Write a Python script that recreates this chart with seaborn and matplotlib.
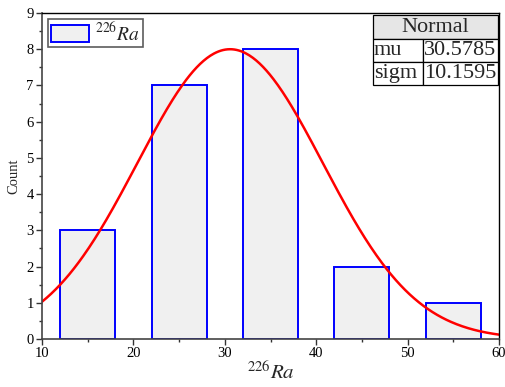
import numpy as np
import pandas as pd
import seaborn as sns
import matplotlib
matplotlib.use("Agg")
import matplotlib.pyplot as plt
from matplotlib.patches import Patch, Rectangle
from matplotlib.ticker import MultipleLocator

# Histogram of 226Ra values with a fitted normal curve
bin_edges = [10, 20, 30, 40, 50, 60]
bin_centers = [15, 25, 35, 45, 55]
counts = [3, 7, 8, 2, 1]
fit_mu = 30.5785
fit_sigma = 10.1595
fit_peak = 8.0
param_names = ["mu", "sigm"]

sns.set_theme(style="white")
plt.rcParams["font.family"] = ["Liberation Serif", "DejaVu Serif"]
plt.rcParams["mathtext.fontset"] = "stix"

W, H = 505, 387
fig = plt.figure(figsize=(W / 100, H / 100), dpi=100)
ax_l, ax_r, ax_t, ax_b = 42, 499, 13, 339
ax = fig.add_axes([ax_l / W, 1 - ax_b / H, (ax_r - ax_l) / W, (ax_b - ax_t) / H])

df = pd.DataFrame({"value": bin_centers, "count": counts})
sns.histplot(data=df, x="value", weights="count", bins=bin_edges, shrink=0.6,
             color="#f0f0f0", edgecolor="#0000ff", linewidth=1.4, alpha=1,
             ax=ax)

xs = np.linspace(10, 60, 400)
ys = fit_peak * np.exp(-((xs - fit_mu) ** 2) / (2 * fit_sigma ** 2))
sns.lineplot(x=xs, y=ys, color="#ff0000", linewidth=1.8, ax=ax)

ax.set_xlim(10, 60)
ax.set_ylim(0, 9)
ax.xaxis.set_major_locator(MultipleLocator(10))
ax.xaxis.set_minor_locator(MultipleLocator(5))
ax.yaxis.set_major_locator(MultipleLocator(1))
ax.yaxis.set_minor_locator(MultipleLocator(0.5))
ax.tick_params(axis="both", which="major", direction="out", length=4,
               width=1, colors="#333333", labelsize=10.5, labelcolor="black",
               bottom=True, left=True, pad=2)
ax.tick_params(axis="both", which="minor", direction="out", length=2,
               width=1, colors="#333333", bottom=True, left=True)
for side in ["left", "bottom"]:
    ax.spines[side].set_color("#444444")
    ax.spines[side].set_linewidth(1.2)
for side in ["top", "right"]:
    ax.spines[side].set_color("black")
    ax.spines[side].set_linewidth(1.0)

ax.set_xlabel(r"$^{226}Ra$", fontsize=15, labelpad=1)
ax.set_ylabel("Count", fontsize=10.5, labelpad=4)

handle = Patch(facecolor="#f0f0f0", edgecolor="#0000ff", linewidth=1.4)
leg = ax.legend([handle], [r"$^{226}Ra$"], loc="upper left",
                bbox_to_anchor=(0.004, 0.994), fontsize=14, frameon=True,
                fancybox=False, handlelength=1.95, handleheight=0.95,
                borderpad=0.15, handletextpad=0.35, borderaxespad=0.2)
leg.get_frame().set_edgecolor("#333333")
leg.get_frame().set_linewidth(1.2)


# Fit parameter table in the upper right corner, drawn in pixel-like units
def to_axes(px, py):
    return (px - ax_l) / (ax_r - ax_l), (ax_b - py) / (ax_b - ax_t)


tx0, tx1, tx2 = 373, 423, 498
ty = [15, 39, 62, 85]
x0, y0 = to_axes(tx0, ty[1])
x2, yh = to_axes(tx2, ty[0])
ax.add_patch(Rectangle((x0, y0), x2 - x0, yh - y0, transform=ax.transAxes,
                       facecolor="#e6e6e6", edgecolor="black", lw=0.9,
                       zorder=5, clip_on=False))
ax.text((x0 + x2) / 2, (y0 + yh) / 2, "Normal", transform=ax.transAxes,
        ha="center", va="center", fontsize=16, zorder=6)
values = [f"{fit_mu:.4f}", f"{fit_sigma:.4f}"]
for i, (name, val) in enumerate(zip(param_names, values)):
    for (ca, cb), txt in (((tx0, tx1), name), ((tx1, tx2), val)):
        a0, b0 = to_axes(ca, ty[i + 2])
        a1, b1 = to_axes(cb, ty[i + 1])
        ax.add_patch(Rectangle((a0, b0), a1 - a0, b1 - b0,
                               transform=ax.transAxes, facecolor="white",
                               edgecolor="black", lw=0.9, zorder=5,
                               clip_on=False))
        ax.text(a0 + 0.002, (b0 + b1) / 2, txt, transform=ax.transAxes,
                ha="left", va="center", fontsize=16, zorder=6)

fig.savefig("out.png", dpi=100)
